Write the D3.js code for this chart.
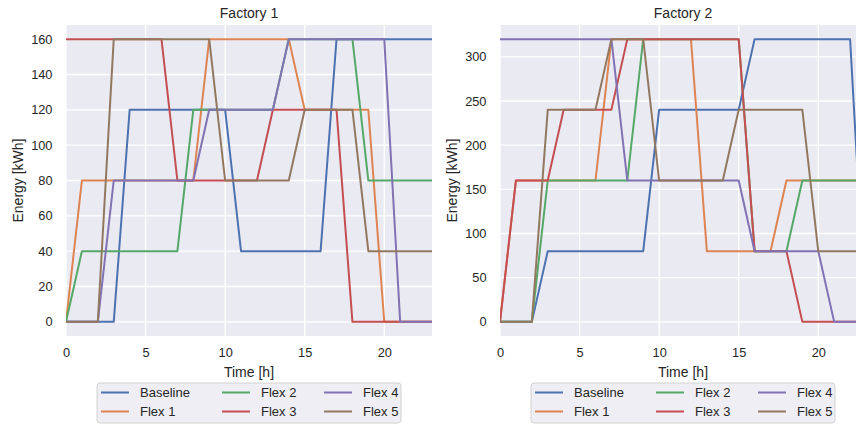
<!DOCTYPE html>
<html>
<head>
<meta charset="utf-8">
<script src="https://cdn.jsdelivr.net/npm/d3@7"></script>
<style>
    body { margin: 0; background: #ffffff; }
    svg text { font-family: "Liberation Sans", Arial, sans-serif; fill: #262626; }
</style>
</head>
<body>
<div id="chart"></div>
<script>
// hours of the day
const hours = d3.range(0, 24);

const seriesNames = ['Baseline', 'Flex 1', 'Flex 2', 'Flex 3', 'Flex 4', 'Flex 5'];
const seriesColors = ['#4c72b0', '#dd8452', '#55a868', '#c44e52', '#8172b3', '#937860'];

// Factory 1, energy per hour [kWh]
const f1Baseline = [0, 0, 0, 0, 120, 120, 120, 120, 120, 120, 120, 40, 40, 40, 40, 40, 40, 160, 160, 160, 160, 160, 160, 160];
const f1Flex1 = [0, 80, 80, 80, 80, 80, 80, 80, 80, 160, 160, 160, 160, 160, 160, 120, 120, 120, 120, 120, 0, 0, 0, 0];
const f1Flex2 = [0, 40, 40, 40, 40, 40, 40, 40, 120, 120, 120, 120, 120, 120, 160, 160, 160, 160, 160, 80, 80, 80, 80, 80];
const f1Flex3 = [160, 160, 160, 160, 160, 160, 160, 80, 80, 80, 80, 80, 80, 120, 120, 120, 120, 120, 0, 0, 0, 0, 0, 0];
const f1Flex4 = [0, 0, 0, 80, 80, 80, 80, 80, 80, 120, 120, 120, 120, 120, 160, 160, 160, 160, 160, 160, 160, 0, 0, 0];
const f1Flex5 = [0, 0, 0, 160, 160, 160, 160, 160, 160, 160, 80, 80, 80, 80, 80, 120, 120, 120, 120, 40, 40, 40, 40, 40];

// Factory 2, energy per hour [kWh]
const f2Baseline = [0, 0, 0, 80, 80, 80, 80, 80, 80, 80, 240, 240, 240, 240, 240, 240, 320, 320, 320, 320, 320, 320, 320, 0];
const f2Flex1 = [0, 160, 160, 160, 160, 160, 160, 320, 320, 320, 320, 320, 320, 80, 80, 80, 80, 80, 160, 160, 160, 160, 160, 160];
const f2Flex2 = [0, 0, 0, 160, 160, 160, 160, 160, 160, 320, 320, 320, 320, 320, 320, 320, 80, 80, 80, 160, 160, 160, 160, 160];
const f2Flex3 = [0, 160, 160, 160, 240, 240, 240, 240, 320, 320, 320, 320, 320, 320, 320, 320, 80, 80, 80, 0, 0, 0, 0, 0];
const f2Flex4 = [320, 320, 320, 320, 320, 320, 320, 320, 160, 160, 160, 160, 160, 160, 160, 160, 80, 80, 80, 80, 80, 0, 0, 0];
const f2Flex5 = [0, 0, 0, 240, 240, 240, 240, 320, 320, 320, 160, 160, 160, 160, 160, 240, 240, 240, 240, 240, 80, 80, 80, 80];

const f1Ticks = [0, 20, 40, 60, 80, 100, 120, 140, 160];
const f2Ticks = [0, 50, 100, 150, 200, 250, 300];
const xTicks = [0, 5, 10, 15, 20];

const width = 856;
const height = 425;

const svg = d3.select('#chart')
    .append('svg')
    .attr('width', width)
    .attr('height', height);

const panels = [
    { title: 'Factory 1', left: 66, series: [f1Baseline, f1Flex1, f1Flex2, f1Flex3, f1Flex4, f1Flex5], yMax: 160, ticks: f1Ticks },
    { title: 'Factory 2', left: 500, series: [f2Baseline, f2Flex1, f2Flex2, f2Flex3, f2Flex4, f2Flex5], yMax: 320, ticks: f2Ticks }
];

const plotW = 366;
const plotTop = 25;
const plotBottom = 336;

panels.forEach((p, i) => {
    const x = d3.scaleLinear().domain([0, 23]).range([p.left, p.left + plotW]);
    // 5% margin like matplotlib
    const pad = p.yMax * 0.05;
    const y = d3.scaleLinear().domain([-pad, p.yMax + pad]).range([plotBottom, plotTop]);

    const g = svg.append('g');

    const clipId = 'clip' + i;
    svg.append('defs').append('clipPath')
        .attr('id', clipId)
        .append('rect')
        .attr('x', p.left)
        .attr('y', plotTop)
        .attr('width', plotW)
        .attr('height', plotBottom - plotTop);

    // background
    g.append('rect')
        .attr('x', p.left)
        .attr('y', plotTop)
        .attr('width', plotW)
        .attr('height', plotBottom - plotTop)
        .attr('fill', '#eaeaf2');

    // grid lines
    g.selectAll('.gx')
        .data(xTicks)
        .enter()
        .append('line')
        .attr('x1', d => x(d))
        .attr('x2', d => x(d))
        .attr('y1', plotTop)
        .attr('y2', plotBottom)
        .attr('stroke', '#ffffff')
        .attr('stroke-width', 1.3);

    g.selectAll('.gy')
        .data(p.ticks)
        .enter()
        .append('line')
        .attr('x1', p.left)
        .attr('x2', p.left + plotW)
        .attr('y1', d => y(d))
        .attr('y2', d => y(d))
        .attr('stroke', '#ffffff')
        .attr('stroke-width', 1.3);

    // axes, tick lines hidden (seaborn darkgrid)
    const xAxis = g.append('g')
        .attr('transform', `translate(0,${plotBottom})`)
        .call(d3.axisBottom(x).tickValues(xTicks).tickSize(0).tickPadding(12));
    xAxis.select('.domain').remove();
    xAxis.selectAll('text').attr('font-size', 12.8).style('font-family', '"Liberation Sans", Arial, sans-serif');

    const yAxis = g.append('g')
        .attr('transform', `translate(${p.left},0)`)
        .call(d3.axisLeft(y).tickValues(p.ticks).tickSize(0).tickPadding(13.5));
    yAxis.select('.domain').remove();
    yAxis.selectAll('text').attr('font-size', 12.8).style('font-family', '"Liberation Sans", Arial, sans-serif');

    // the lines
    const line = d3.line()
        .x((d, j) => x(hours[j]))
        .y(d => y(d));

    g.append('g')
        .attr('clip-path', `url(#${clipId})`)
        .selectAll('path')
        .data(p.series)
        .enter()
        .append('path')
        .attr('d', d => line(d))
        .attr('fill', 'none')
        .attr('stroke', (d, j) => seriesColors[j])
        .attr('stroke-width', 2)
        .attr('stroke-linejoin', 'round')
        .attr('stroke-linecap', 'square');

    // title and labels
    const cx = p.left + plotW / 2;
    g.append('text')
        .attr('x', cx)
        .attr('y', 18)
        .attr('text-anchor', 'middle')
        .attr('font-size', 14)
        .text(p.title);

    g.append('text')
        .attr('x', cx)
        .attr('y', 377)
        .attr('text-anchor', 'middle')
        .attr('font-size', 14)
        .text('Time [h]');

    const ylx = i === 0 ? 23 : 457;
    g.append('text')
        .attr('transform', `translate(${ylx},${(plotTop + plotBottom) / 2}) rotate(-90)`)
        .attr('text-anchor', 'middle')
        .attr('font-size', 14)
        .text('Energy [kWh]');

    // legend, 3 columns x 2 rows under the axes
    const legW = 304;
    const legX = cx - legW / 2;
    const legY = 383;
    const leg = g.append('g');
    leg.append('rect')
        .attr('x', legX)
        .attr('y', legY)
        .attr('width', legW)
        .attr('height', 40)
        .attr('rx', 3)
        .attr('fill', '#eeeef4')
        .attr('stroke', '#d2d2d2')
        .attr('stroke-width', 1);

    const colX = [4, 125, 227];
    seriesNames.forEach((name, j) => {
        const col = Math.floor(j / 2);
        const row = j % 2;
        const lx = legX + colX[col];
        const ly = legY + 9.5 + row * 19;
        leg.append('line')
            .attr('x1', lx)
            .attr('x2', lx + 28)
            .attr('y1', ly)
            .attr('y2', ly)
            .attr('stroke', seriesColors[j])
            .attr('stroke-width', 2);
        leg.append('text')
            .attr('x', lx + 39)
            .attr('y', ly)
            .attr('dy', '0.35em')
            .attr('font-size', 13)
            .text(name);
    });
});
</script>
</body>
</html>
